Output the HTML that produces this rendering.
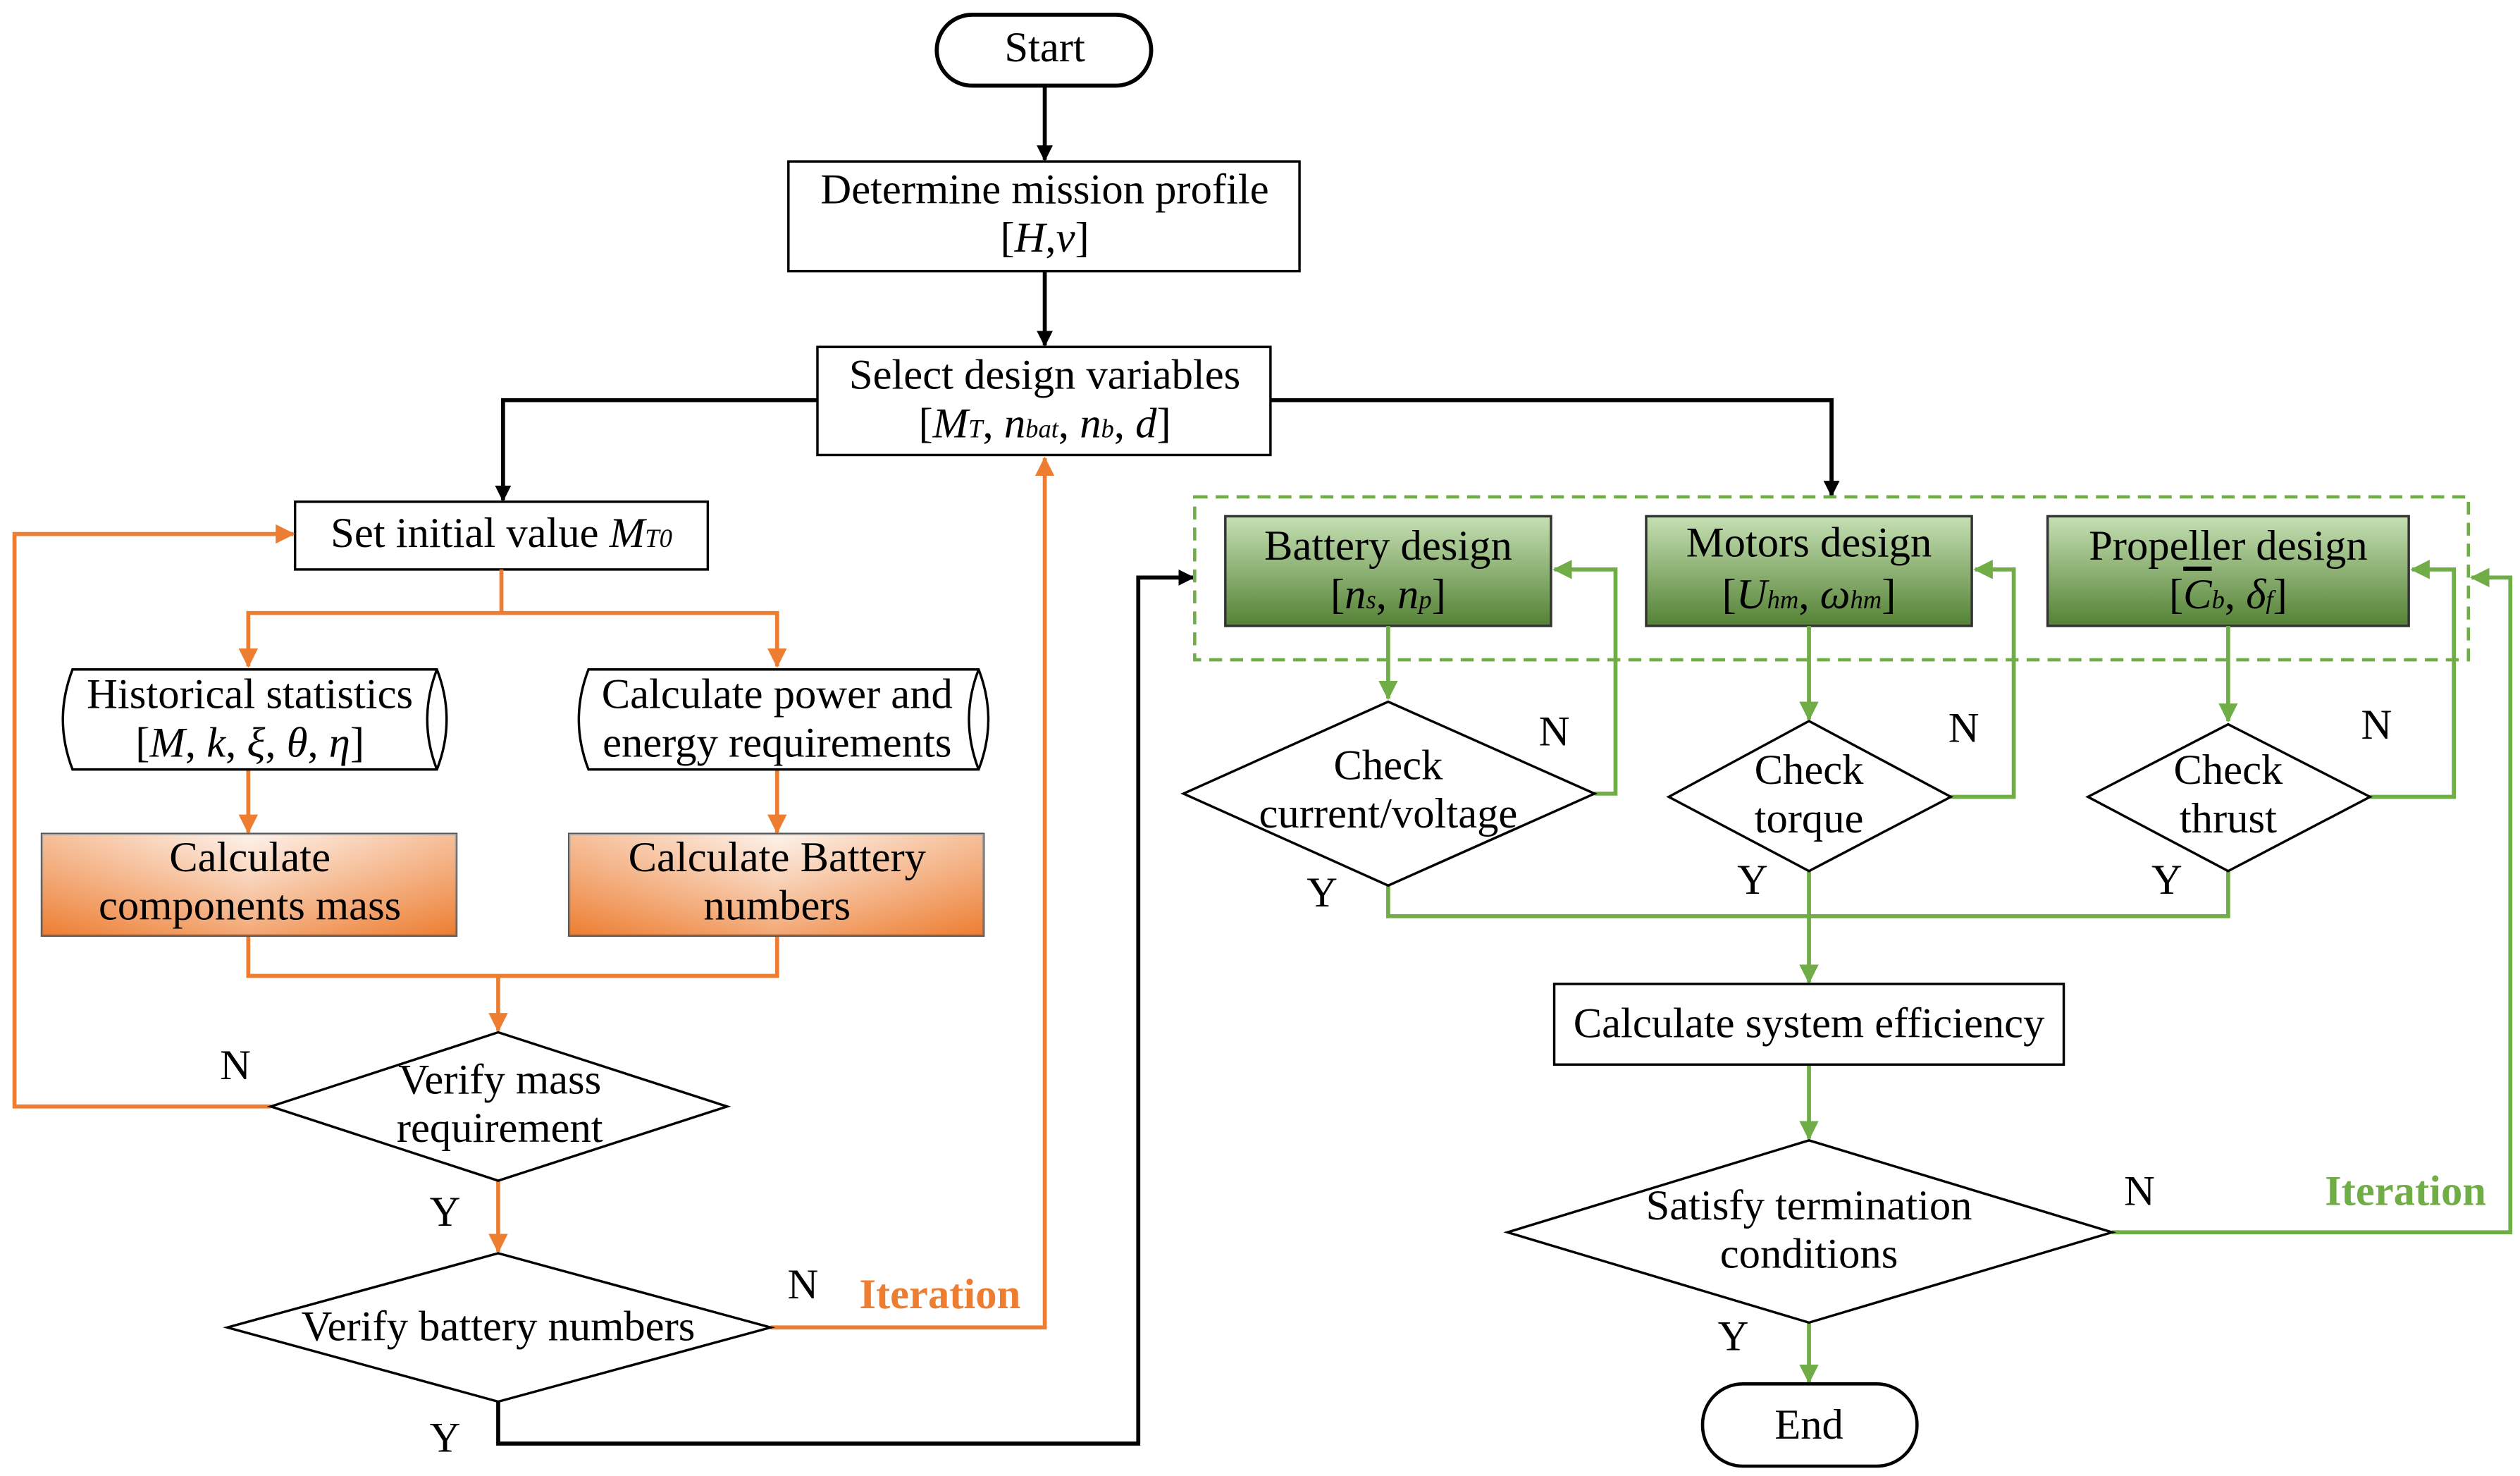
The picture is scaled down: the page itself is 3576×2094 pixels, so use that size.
<!DOCTYPE html>
<html><head><meta charset="utf-8"><style>
html,body{margin:0;padding:0;background:#fff}
svg{display:block}
text{font-family:"Liberation Serif",serif;font-size:26.5px;fill:#000}
.i{font-style:italic}
</style></head><body>
<svg width="3576" height="2094" viewBox="0 0 1563 915" xmlns="http://www.w3.org/2000/svg">
<defs>
<marker id="ak" markerWidth="10" markerHeight="10" refX="9" refY="5" orient="auto" markerUnits="userSpaceOnUse"><path d="M0,0 L10,5 L0,10 Z" fill="#000"/></marker>
<marker id="ao" markerWidth="12" markerHeight="12" refX="11" refY="6" orient="auto" markerUnits="userSpaceOnUse"><path d="M0,0 L12,6 L0,12 Z" fill="#ED7D31"/></marker>
<marker id="ag" markerWidth="12" markerHeight="12" refX="11" refY="6" orient="auto" markerUnits="userSpaceOnUse"><path d="M0,0 L12,6 L0,12 Z" fill="#70AD47"/></marker>
<linearGradient id="og" x1="0" y1="0" x2="1" y2="0"><stop offset="0" stop-color="#ED7D31"/><stop offset="0.5" stop-color="#fbe5d6"/><stop offset="1" stop-color="#ED7D31"/></linearGradient>
<linearGradient id="og2" x1="0" y1="0" x2="0" y2="1"><stop offset="0" stop-color="#fff" stop-opacity="0.5"/><stop offset="1" stop-color="#ED7D31" stop-opacity="0.6"/></linearGradient>
<linearGradient id="gg" x1="0" y1="0" x2="0" y2="1"><stop offset="0" stop-color="#c6e0b4"/><stop offset="1" stop-color="#548235"/></linearGradient>
</defs>
<g fill="none" stroke-width="2.5">
<g stroke="#000">
<rect x="581" y="9" width="133" height="44" rx="22" fill="#fff"/>
<line x1="648" y1="53" x2="648" y2="99" marker-end="url(#ak)"/>
<rect x="489" y="100" width="317" height="68" fill="#fff" stroke-width="1.5"/>
<line x1="648" y1="168" x2="648" y2="214" marker-end="url(#ak)"/>
<rect x="507" y="215" width="281" height="67" fill="#fff" stroke-width="1.5"/>
<polyline points="507,248 312,248 312,310" marker-end="url(#ak)"/>
<polyline points="788,248 1136,248 1136,307" marker-end="url(#ak)"/>
<rect x="183" y="311" width="256" height="42" fill="#fff" stroke-width="1.5"/>
<polyline points="309,869 309,895 706,895 706,358 740,358" marker-end="url(#ak)"/>
</g>
<g stroke="#ED7D31">
<polyline points="311,353 311,380 154,380 154,413" marker-end="url(#ao)"/>
<polyline points="311,380 482,380 482,413" marker-end="url(#ao)"/>
<line x1="154" y1="477" x2="154" y2="516" marker-end="url(#ao)"/>
<line x1="482" y1="477" x2="482" y2="516" marker-end="url(#ao)"/>
<polyline points="154,580 154,605 482,605 482,580"/>
<line x1="309" y1="605" x2="309" y2="639" marker-end="url(#ao)"/>
<polyline points="168,686 9,686 9,331 182,331" marker-end="url(#ao)"/>
<line x1="309" y1="732" x2="309" y2="776" marker-end="url(#ao)"/>
<polyline points="478,823 648,823 648,284" marker-end="url(#ao)"/>
</g>
<path d="M45,415 H271 Q283,446 271,477 H45 Q33,446 45,415 Z" stroke="#000" stroke-width="1.5" fill="#fff"/>
<path d="M365,415 H607 Q619,446 607,477 H365 Q353,446 365,415 Z" stroke="#000" stroke-width="1.5" fill="#fff"/>
<path d="M271,415 Q259,446 271,477 M607,415 Q595,446 607,477" stroke="#000" stroke-width="1.5"/>
<rect x="26" y="517" width="257" height="63" fill="url(#og)" stroke="#555" stroke-width="1.5"/>
<rect x="26" y="517" width="257" height="63" fill="url(#og2)"/>
<rect x="353" y="517" width="257" height="63" fill="url(#og)" stroke="#555" stroke-width="1.5"/>
<rect x="353" y="517" width="257" height="63" fill="url(#og2)"/>
<polygon points="168,686 309,640 451,686 309,732" fill="#fff" stroke="#000" stroke-width="1.5"/>
<polygon points="141,823 309,777 478,823 309,869" fill="#fff" stroke="#000" stroke-width="1.5"/>
<rect x="741" y="308" width="790" height="101" stroke="#70AD47" stroke-dasharray="8,5" stroke-width="2"/>
<rect x="760" y="320" width="202" height="68" fill="url(#gg)" stroke="#333" stroke-width="1.5"/>
<rect x="1021" y="320" width="202" height="68" fill="url(#gg)" stroke="#333" stroke-width="1.5"/>
<rect x="1270" y="320" width="224" height="68" fill="url(#gg)" stroke="#333" stroke-width="1.5"/>
<g stroke="#70AD47">
<line x1="861" y1="388" x2="861" y2="433" marker-end="url(#ag)"/>
<line x1="1122" y1="388" x2="1122" y2="446" marker-end="url(#ag)"/>
<line x1="1382" y1="388" x2="1382" y2="447" marker-end="url(#ag)"/>
<polyline points="989,492 1002,492 1002,353 964,353" marker-end="url(#ag)"/>
<polyline points="1210,494 1249,494 1249,353 1225,353" marker-end="url(#ag)"/>
<polyline points="1470,494 1522,494 1522,353 1496,353" marker-end="url(#ag)"/>
<polyline points="861,549 861,568 1382,568 1382,540"/>
<line x1="1122" y1="540" x2="1122" y2="609" marker-end="url(#ag)"/>
<line x1="1122" y1="660" x2="1122" y2="706" marker-end="url(#ag)"/>
<polyline points="1310,764 1557,764 1557,358 1533,358" marker-end="url(#ag)"/>
<line x1="1122" y1="820" x2="1122" y2="857" marker-end="url(#ag)"/>
</g>
<g stroke="#000" stroke-width="1.5" fill="#fff">
<polygon points="734,492 861,435 989,492 861,549"/>
<polygon points="1035,494 1122,447 1210,494 1122,540"/>
<polygon points="1295,494 1382,449 1470,494 1382,540"/>
<rect x="964" y="610" width="316" height="50"/>
<polygon points="935,764 1122,707 1310,764 1122,820"/>
<rect x="1056" y="858" width="133" height="51" rx="25" stroke-width="2"/>
</g>
</g>
<g text-anchor="middle">
<text x="648" y="38">Start</text>
<text x="648" y="126">Determine mission profile</text>
<text x="648" y="156">[<tspan class="i">H</tspan>,<tspan class="i">v</tspan>]</text>
<text x="648" y="241">Select design variables</text>
<text x="648" y="271">[<tspan class="i">M</tspan><tspan class="i" font-size="16">T</tspan>, <tspan class="i">n</tspan><tspan class="i" font-size="16">bat</tspan>, <tspan class="i">n</tspan><tspan class="i" font-size="16">b</tspan>, <tspan class="i">d</tspan>]</text>
<text x="311" y="339">Set initial value <tspan class="i">M</tspan><tspan class="i" font-size="16">T0</tspan></text>
<text x="155" y="439">Historical statistics</text>
<text x="155" y="469">[<tspan class="i">M</tspan>, <tspan class="i">k</tspan>, <tspan class="i">ξ</tspan>, <tspan class="i">θ</tspan>, <tspan class="i">η</tspan>]</text>
<text x="482" y="439">Calculate power and</text>
<text x="482" y="469">energy requirements</text>
<text x="155" y="540">Calculate</text>
<text x="155" y="570">components mass</text>
<text x="482" y="540">Calculate Battery</text>
<text x="482" y="570">numbers</text>
<text x="310" y="678">Verify mass</text>
<text x="310" y="708">requirement</text>
<text x="309" y="831">Verify battery numbers</text>
<text x="861" y="347">Battery design</text>
<text x="861" y="377">[<tspan class="i">n</tspan><tspan class="i" font-size="16">s</tspan>, <tspan class="i">n</tspan><tspan class="i" font-size="16">p</tspan>]</text>
<text x="1122" y="345">Motors design</text>
<text x="1122" y="377">[<tspan class="i">U</tspan><tspan class="i" font-size="16">hm</tspan>,  <tspan class="i">ω</tspan><tspan class="i" font-size="16">hm</tspan>]</text>
<text x="1382" y="347">Propeller design</text>
<text x="1382" y="377">[<tspan class="i" text-decoration="overline">C</tspan><tspan class="i" font-size="16">b</tspan>, <tspan class="i">δ</tspan><tspan class="i" font-size="16">f</tspan>]</text>
<text x="861" y="483">Check</text>
<text x="861" y="513">current/voltage</text>
<text x="1122" y="486">Check</text>
<text x="1122" y="516">torque</text>
<text x="1382" y="486">Check</text>
<text x="1382" y="516">thrust</text>
<text x="1122" y="643">Calculate system efficiency</text>
<text x="1122" y="756">Satisfy termination</text>
<text x="1122" y="786">conditions</text>
<text x="1122" y="892">End</text>
<text x="146" y="669">N</text>
<text x="276" y="760">Y</text>
<text x="498" y="805">N</text>
<text x="276" y="900">Y</text>
<text x="964" y="462">N</text>
<text x="1218" y="460">N</text>
<text x="1474" y="458">N</text>
<text x="820" y="562">Y</text>
<text x="1087" y="554">Y</text>
<text x="1344" y="554">Y</text>
<text x="1327" y="747">N</text>
<text x="1075" y="837">Y</text>
<text x="583" y="811" font-weight="bold" style="fill:#ED7D31">Iteration</text>
<text x="1492" y="747" font-weight="bold" style="fill:#70AD47">Iteration</text>
</g>
</svg>
</body></html>
